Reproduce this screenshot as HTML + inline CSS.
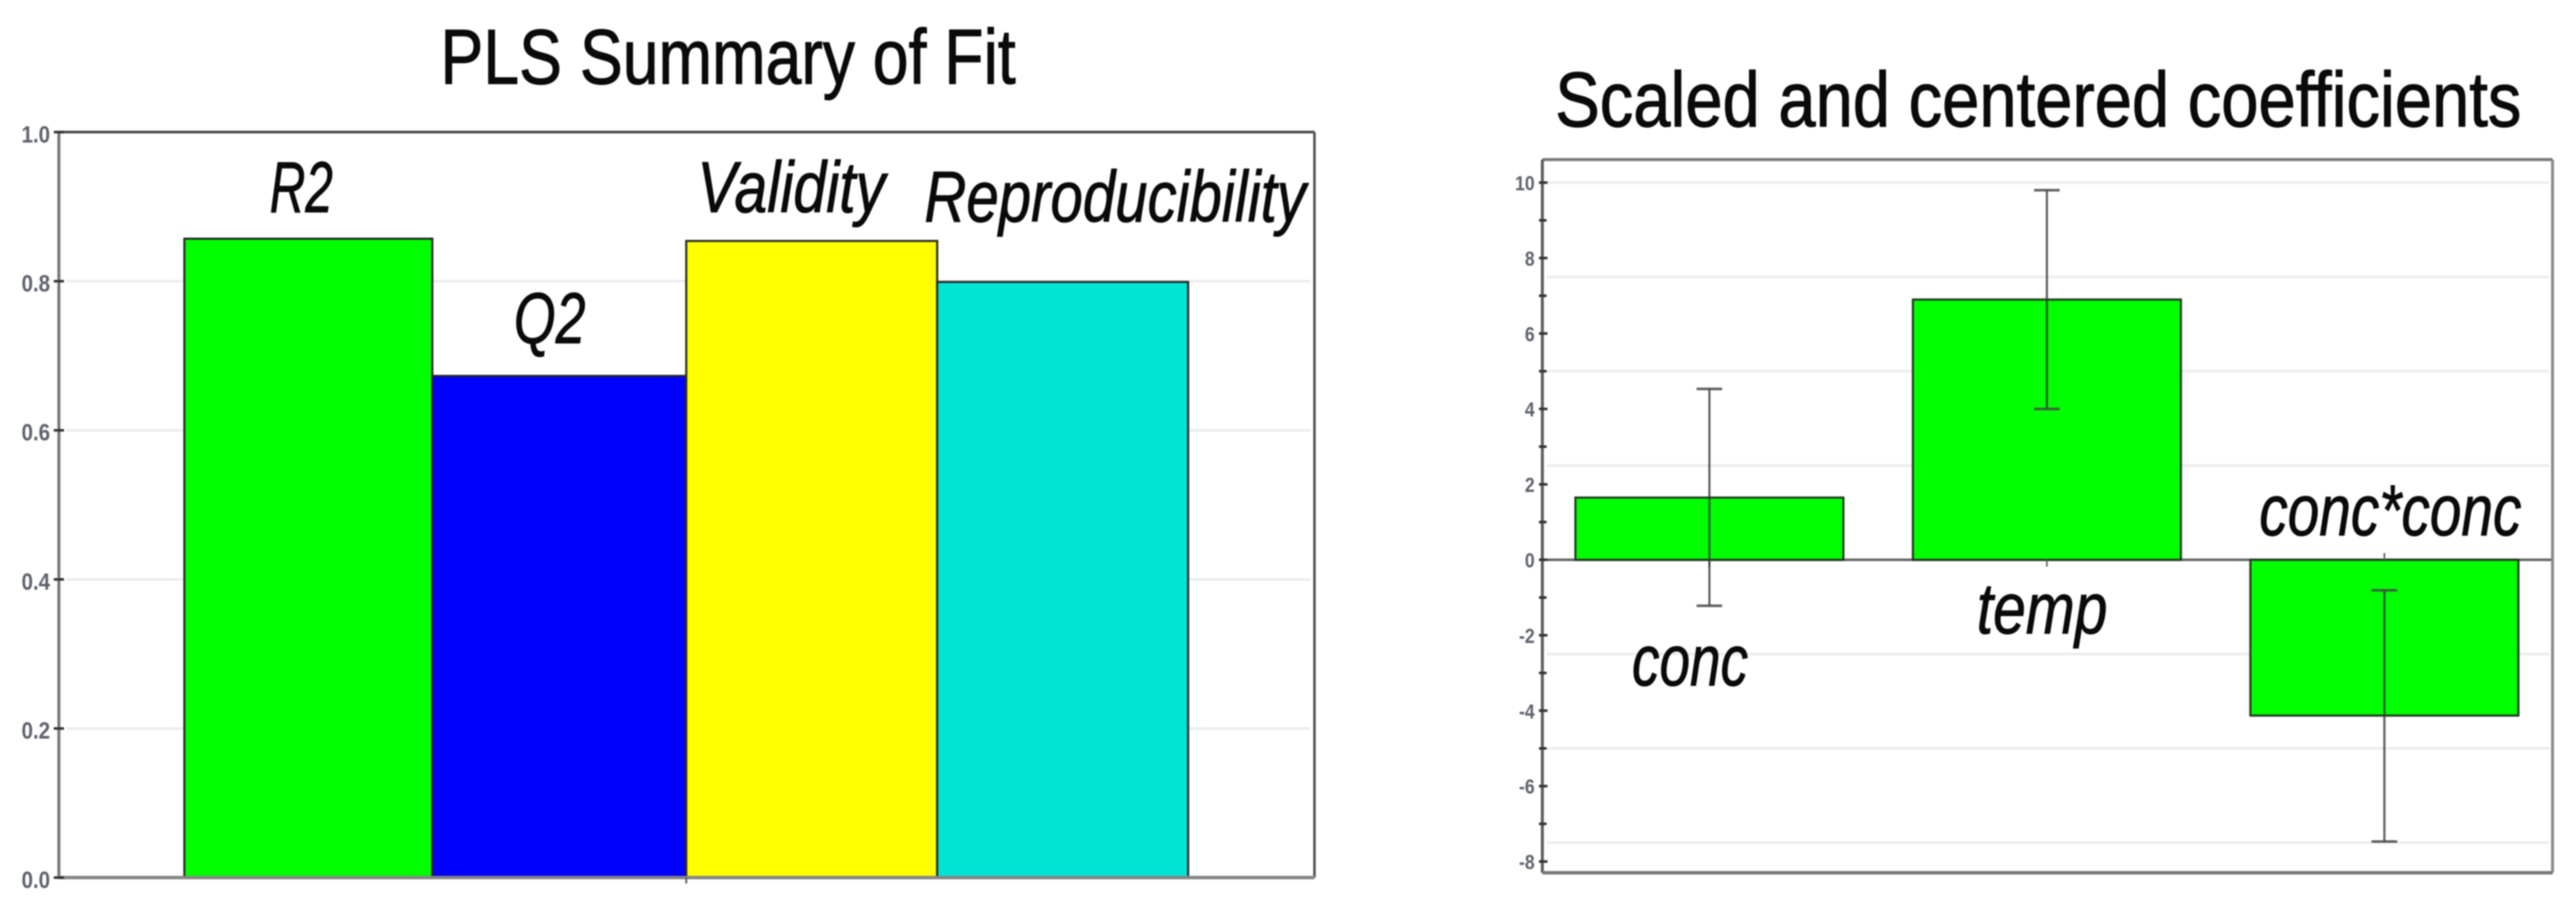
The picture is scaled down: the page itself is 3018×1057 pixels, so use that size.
<!DOCTYPE html>
<html lang="en">
<head>
<meta charset="utf-8">
<title>PLS Summary of Fit and Scaled and centered coefficients</title>
<style>
  html, body { margin: 0; padding: 0; background: #fff; }
  #figure { display: block; width: 3018px; height: 1057px; filter: blur(0.8px); }
  .title { font-family: "Liberation Sans", sans-serif; font-size: 91px; fill: #0a0a0a; stroke: #0a0a0a; stroke-width: 1.2px; }
  .note { font-family: "Liberation Sans", sans-serif; font-style: italic; font-size: 84px; fill: #0a0a0a; stroke: #0a0a0a; stroke-width: 1px; }
  .tick { font-family: "Liberation Sans", sans-serif; font-weight: bold; fill: #5d626c; }
</style>
</head>
<body>
<svg id="figure" xmlns="http://www.w3.org/2000/svg" width="3018" height="1057" viewBox="0 0 3018 1057">
  <rect x="0" y="0" width="3018" height="1057" fill="#fff"/>
  <g id="left-chart"></g>
  <g id="right-chart"></g>

  <text class="title" x="516" y="98" textLength="674" lengthAdjust="spacingAndGlyphs">PLS Summary of Fit</text>
  <text class="note" x="316" y="248.5" textLength="74" lengthAdjust="spacingAndGlyphs">R2</text>
  <text class="note" x="602" y="402" textLength="84" lengthAdjust="spacingAndGlyphs">Q2</text>
  <text class="note" x="817" y="248.5" textLength="220" lengthAdjust="spacingAndGlyphs">Validity</text>
  <text class="note" x="1083" y="259.6" textLength="447" lengthAdjust="spacingAndGlyphs">Reproducibility</text>

  <text class="title" x="1822" y="148" textLength="1132" lengthAdjust="spacingAndGlyphs">Scaled and centered coefficients</text>
  <text class="note" x="1912" y="803" textLength="136" lengthAdjust="spacingAndGlyphs">conc</text>
  <text class="note" x="2316" y="742" textLength="153" lengthAdjust="spacingAndGlyphs">temp</text>
  <text class="note" x="2647" y="627" textLength="307" lengthAdjust="spacingAndGlyphs">conc*conc</text>
</svg>

<script>
// Left chart data
const fitCategories = ['R2', 'Q2', 'Validity', 'Reproducibility'];
const fitValues = [0.857, 0.673, 0.854, 0.799];
const fitColors = ['#00ff00', '#0000ff', '#ffff00', '#00e4d3'];
const fitTickLabels = ['0.0', '0.2', '0.4', '0.6', '0.8', '1.0'];
const fitGridValues = [0.2, 0.4, 0.6, 0.8];

// Right chart data
const coefCategories = ['conc', 'temp', 'conc*conc'];
const coefValues = [1.65, 6.9, -4.13];
const coefErrLow = [-1.22, 4.0, -7.47];
const coefErrHigh = [4.53, 9.8, -0.81];
const coefTickLabels = ['-8', '-6', '-4', '-2', '0', '2', '4', '6', '8', '10'];
const coefMinorTicks = [-7, -5, -3, -1, 1, 3, 5, 7, 9];
const coefGridValues = [-7.5, -5, -2.5, 2.5, 5, 7.5, 10];

const NS = 'http://www.w3.org/2000/svg';
function mk(parent, tag, attrs) {
  const el = document.createElementNS(NS, tag);
  for (const k in attrs) el.setAttribute(k, attrs[k]);
  parent.appendChild(el);
  return el;
}

// Left chart axis functions (second band edge sits slightly left in the source image)
const L = { left: 69, right: 1540, top: 154.8, bottom: 1028.4, x0: 216, step: 294 };
const yFit = v => L.bottom - (L.bottom - L.top) * v;
const xFit = i => L.x0 + L.step * i - (i === 1 ? 3.5 : 0);

// Right chart axis functions
const R = { left: 1807, right: 2990.5, top: 187, bottom: 1022.7, zero: 656, unit: 44.2, x0: 1845.7, step: 395.4, barW: 314 };
const yCoef = v => R.zero - R.unit * v;
const xCoef = i => R.x0 + R.step * i;

const left = document.getElementById('left-chart');
const right = document.getElementById('right-chart');

// ---- left chart ----
fitGridValues.forEach(v => {
  const el = mk(left, 'line', { x1: L.left + 9, x2: L.right - 5, y1: yFit(v), y2: yFit(v), stroke: '#ececec', 'stroke-width': 3 });
  
  
});

fitValues.forEach((v, i) => {
  const el = mk(left, 'rect', { x: xFit(i), y: yFit(v), width: xFit(i + 1) - xFit(i), height: yFit(0) - yFit(v), fill: fitColors[i], stroke: '#2a2a2a', 'stroke-width': 2.5 });
  
  
  const tip = mk(el, 'title', {});
  tip.textContent = fitCategories[i];
});

{
  const frame = [
    [L.left, L.top, L.right, L.top, '#444', 3],
    [L.right, L.top, L.right, L.bottom, '#555', 3],
    [L.left, L.top, L.left, L.bottom, '#777', 3.5],
    [L.left, L.bottom, L.right, L.bottom, '#858585', 4]
  ];
  frame.forEach(s => {
    const el = mk(left, 'line', { x1: s[0], y1: s[1], x2: s[2], y2: s[3], stroke: s[4], 'stroke-width': s[5] });
    
    
  });
}

{
  const el = mk(left, 'line', { x1: xFit(2), x2: xFit(2), y1: L.bottom, y2: L.bottom + 7, stroke: '#555', 'stroke-width': 2 });
  
  
}

fitTickLabels.forEach(label => {
  const v = parseFloat(label);
  const y = yFit(v);
  const tick = mk(left, 'line', { x1: L.left - 6, x2: L.left + 6, y1: y, y2: y, stroke: '#333', 'stroke-width': 3 });
  
  
  const t = mk(left, 'text', { class: 'tick', 'font-size': 28, 'text-anchor': 'end', transform: 'translate(58.7,' + (y + 12) + ') scale(0.86,1)' });
  t.textContent = label;
  
  
});

// ---- right chart ----
coefGridValues.forEach(v => {
  const el = mk(right, 'line', { x1: R.left + 5, x2: R.right - 4, y1: yCoef(v), y2: yCoef(v), stroke: '#ececec', 'stroke-width': 3 });
  
  
});

{
  const el = mk(right, 'line', { x1: R.left, x2: R.right, y1: yCoef(0), y2: yCoef(0), stroke: '#666', 'stroke-width': 3 });
  
  
}

coefValues.forEach((v, i) => {
  const yTop = Math.min(yCoef(v), yCoef(0));
  const h = Math.abs(yCoef(v) - yCoef(0));
  const el = mk(right, 'rect', { x: xCoef(i), y: yTop, width: R.barW, height: h, fill: '#00ff00', stroke: '#1f3a1f', 'stroke-width': 2.5 });
  
  
  const tip = mk(el, 'title', {});
  tip.textContent = coefCategories[i];
});

coefCategories.forEach((c, i) => {
  const cx = xCoef(i) + R.barW / 2;
  const dir = coefValues[i] < 0 ? -1 : 1;
  const tick = mk(right, 'line', { x1: cx, x2: cx, y1: yCoef(0), y2: yCoef(0) + dir * 8, stroke: '#666', 'stroke-width': 2 });
  
  

  const stem = mk(right, 'line', { x1: cx, x2: cx, y1: yCoef(coefErrLow[i]), y2: yCoef(coefErrHigh[i]), stroke: '#333', 'stroke-width': 2.5, 'stroke-opacity': 0.8 });
  
  

  const capLow = mk(right, 'line', { x1: cx - 15, x2: cx + 15, y1: yCoef(coefErrLow[i]), y2: yCoef(coefErrLow[i]), stroke: '#444', 'stroke-width': 3, 'stroke-opacity': 0.85 });
  
  

  const capHigh = mk(right, 'line', { x1: cx - 15, x2: cx + 15, y1: yCoef(coefErrHigh[i]), y2: yCoef(coefErrHigh[i]), stroke: '#444', 'stroke-width': 3, 'stroke-opacity': 0.85 });
  
  
});

{
  const frame = [
    [R.left, R.top, R.right, R.top, '#777', 3.5],
    [R.right, R.top, R.right, R.bottom, '#8c8c8c', 3.5],
    [R.left, R.top, R.left, R.bottom, '#5c5c5c', 3.5],
    [R.left, R.bottom, R.right, R.bottom, '#777', 4]
  ];
  frame.forEach(s => {
    const el = mk(right, 'line', { x1: s[0], y1: s[1], x2: s[2], y2: s[3], stroke: s[4], 'stroke-width': s[5] });
    
    
  });
}

coefMinorTicks.forEach(v => {
  const el = mk(right, 'line', { x1: R.left - 4, x2: R.left + 5, y1: yCoef(v), y2: yCoef(v), stroke: '#333', 'stroke-width': 3 });
  
  
});

coefTickLabels.forEach(label => {
  const y = yCoef(parseFloat(label));
  const tick = mk(right, 'line', { x1: R.left - 4, x2: R.left + 6, y1: y, y2: y, stroke: '#333', 'stroke-width': 3 });
  
  
  const t = mk(right, 'text', { class: 'tick', 'font-size': 24, 'text-anchor': 'end', transform: 'translate(1798,' + (y + 9) + ') scale(0.86,1)' });
  t.textContent = label;
  
  
});
</script>
</body>
</html>
